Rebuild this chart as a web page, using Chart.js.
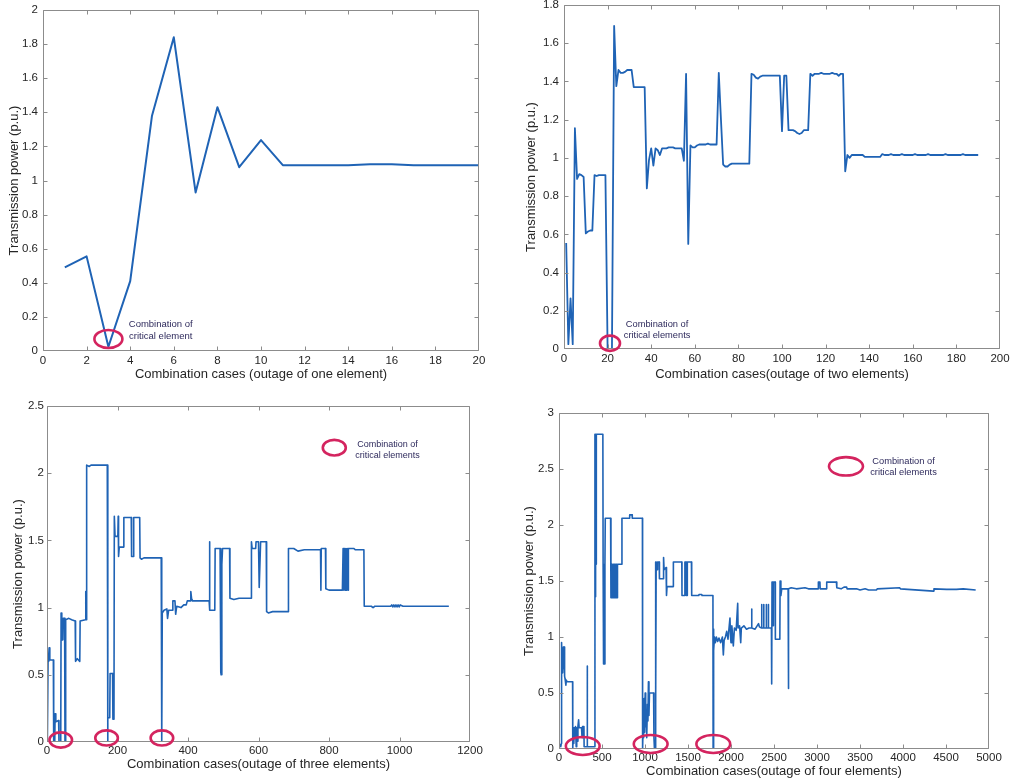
<!DOCTYPE html>
<html><head><meta charset="utf-8">
<script src="https://cdn.jsdelivr.net/npm/chart.js@4.4.1/dist/chart.umd.min.js"></script>
<style>
html,body{margin:0;padding:0;background:#fff;width:1010px;height:782px;overflow:hidden;position:relative;}
canvas{position:absolute;display:block;}
</style></head><body>
<canvas id="c1" width="500" height="390" style="left:0px;top:0px"></canvas>
<canvas id="c2" width="510" height="392" style="left:500px;top:-2px"></canvas>
<canvas id="c3" width="500" height="392" style="left:0px;top:390px"></canvas>
<canvas id="c4" width="510" height="392" style="left:500px;top:390px"></canvas>
<script>
// ---------- DATA ----------
// Plot 1: outage of one element (cases 1..20)
const onePower = [0.49,0.555,0.025,0.41,1.38,1.84,0.93,1.43,1.078,1.237,1.09,1.09,1.09,1.09,1.095,1.095,1.09,1.09,1.09,1.09];

// Plot 2: outage of two elements (cases 1..190)
const twoPower = [
0.555,0.025,0.265,0.025,1.155,0.89,0.915,0.91,0.9,0.605,
0.615,0.62,0.62,0.91,0.905,0.91,0.91,0.91,0.91,0.0,
0.0,0.0,1.69,1.375,1.46,1.445,1.445,1.45,1.46,1.46,
1.46,1.37,1.37,1.37,1.37,1.37,1.37,0.84,0.99,1.05,
0.96,1.05,1.04,1.015,1.05,1.05,1.05,1.055,1.055,1.055,
1.05,1.05,1.05,1.05,0.985,1.44,0.55,1.065,1.055,1.055,
1.065,1.07,1.07,1.07,1.07,1.075,1.07,1.07,1.07,1.07,
1.445,1.2,0.965,0.955,0.955,0.965,0.97,0.97,0.97,0.97,
0.97,0.97,0.97,0.97,0.97,1.44,1.435,1.42,1.415,1.425,
1.43,1.43,1.43,1.43,1.43,1.43,1.43,1.43,1.43,1.14,
1.43,1.43,1.145,1.145,1.145,1.14,1.13,1.125,1.13,1.145,
1.145,1.145,1.44,1.43,1.44,1.44,1.44,1.445,1.44,1.44,
1.44,1.44,1.445,1.44,1.44,1.43,1.44,1.44,0.93,1.015,
1.0,1.015,1.015,1.015,1.015,1.015,1.015,1.005,1.005,1.005,
1.005,1.005,1.005,1.005,1.005,1.02,1.015,1.015,1.015,1.02,
1.015,1.015,1.015,1.015,1.02,1.015,1.015,1.015,1.015,1.015,
1.02,1.015,1.015,1.015,1.015,1.015,1.02,1.015,1.015,1.015,
1.015,1.015,1.015,1.015,1.02,1.015,1.015,1.015,1.015,1.015,
1.015,1.015,1.02,1.015,1.015,1.015,1.015,1.015,1.015,1.015];

// Plot 3: outage of three elements (case number, power) breakpoints
const threeCases = [1,3,5,6,8,18,19,22,23,25,33,34,39,40,42,45,46,50,51,52,53,62,70,80,81,86,93,94,109,110,111,112,113,120,125,171,172,173,178,179,186,187,190,191,193,201,202,203,205,217,218,239,240,245,246,263,264,268,275,324,325,326,327,332,340,342,345,356,357,363,365,368,380,388,395,398,406,408,410,413,460,461,462,476,477,491,493,494,496,498,518,519,530,545,579,580,582,592,593,600,602,604,606,622,623,628,640,684,685,700,712,730,776,777,778,790,791,800,838,840,842,844,846,848,850,852,854,855,870,875,899,900,920,925,930,975,978,981,984,987,990,993,996,999,1002,1010,1140];
const threePower = [0.0,0.6,0.65,0.7,0.61,0.61,0.0,0.0,0.21,0.15,0.16,0.0,0.0,0.96,0.76,0.76,0.92,0.92,0.0,0.0,0.91,0.92,0.91,0.9,0.6,0.62,0.6,0.9,0.91,1.12,0.91,0.91,2.06,2.05,2.06,2.06,0.0,0.18,0.18,0.51,0.51,0.17,0.17,1.68,1.53,1.53,1.68,1.38,1.45,1.45,1.67,1.67,1.38,1.38,1.67,1.67,1.37,1.36,1.37,1.37,0.0,0.0,0.96,0.98,0.99,0.92,0.98,0.98,1.05,1.05,0.95,1.01,1.0,1.02,1.02,1.05,1.05,1.12,1.07,1.05,1.05,1.49,0.98,0.98,1.44,1.44,0.52,0.5,1.32,1.44,1.44,1.07,1.06,1.07,1.07,1.49,1.44,1.44,1.49,1.49,1.15,1.15,1.49,1.49,0.97,0.96,0.97,0.97,1.44,1.44,1.42,1.43,1.43,1.13,1.44,1.44,1.14,1.13,1.13,1.44,1.13,1.44,1.13,1.44,1.13,1.44,1.13,1.44,1.44,1.43,1.43,1.01,1.01,1.0,1.01,1.01,1.02,1.005,1.02,1.005,1.02,1.005,1.02,1.005,1.02,1.01,1.01];

// Plot 4: outage of four elements (case number, power) breakpoints
const fourCases = [1,20,28,30,35,40,45,50,55,60,65,72,80,85,100,158,160,166,172,178,186,192,200,206,212,220,228,234,262,268,274,290,292,326,328,331,415,418,421,424,427,432,434,446,510,513,518,530,534,538,600,604,608,612,616,620,624,628,632,636,640,644,648,652,656,660,664,668,672,676,680,730,732,820,822,850,852,970,972,978,984,990,996,1002,1008,1014,1020,1028,1034,1040,1046,1052,1100,1104,1110,1118,1122,1126,1130,1140,1146,1165,1168,1212,1216,1222,1245,1250,1256,1328,1330,1428,1430,1462,1464,1478,1480,1490,1492,1540,1543,1625,1628,1660,1663,1790,1792,1796,1800,1808,1818,1830,1845,1860,1880,1900,1911,1920,1935,1950,1965,1988,1995,2000,2010,2020,2027,2040,2060,2078,2082,2100,2113,2120,2150,2180,2210,2238,2240,2243,2280,2320,2330,2354,2356,2359,2378,2380,2383,2408,2410,2413,2432,2434,2437,2470,2473,2477,2481,2485,2489,2493,2513,2516,2568,2571,2580,2590,2664,2667,2671,2700,2760,2860,2900,3013,3016,3034,3037,3110,3113,3226,3230,3280,3314,3345,3350,3460,3500,3560,3600,3693,3700,3960,3970,4353,4360,4508,4620,4700,4845];
const fourPower = [0.05,0.02,0.05,0.95,0.7,0.9,0.68,0.91,0.72,0.91,0.65,0.62,0.57,0.61,0.6,0.6,0.0,0.19,0.05,0.19,0.1,0.2,0.02,0.19,0.07,0.2,0.26,0.19,0.19,0.1,0.2,0.2,0.02,0.02,0.74,0.02,0.02,2.81,1.36,2.81,1.65,1.65,2.81,2.81,2.81,1.65,0.76,0.76,1.65,2.06,2.06,1.35,1.65,1.35,1.65,1.35,1.65,1.35,1.65,1.35,1.65,1.35,1.65,1.35,1.65,1.35,1.65,1.35,1.65,1.35,1.65,1.65,2.06,2.06,2.09,2.09,2.06,2.06,0.0,0.2,0.1,0.45,0.15,0.5,0.2,0.35,0.1,0.4,0.25,0.6,0.3,0.5,0.5,0.1,0.0,0.0,1.67,0.4,1.67,1.6,1.67,1.67,1.52,1.52,1.71,1.6,1.62,1.37,1.45,1.45,1.67,1.67,1.37,1.37,1.67,1.67,1.37,1.37,1.67,1.67,1.37,1.37,1.38,1.38,1.37,1.37,0.0,1.07,0.88,1.0,0.95,1.0,0.96,0.99,0.95,1.0,0.84,0.97,1.0,1.05,0.98,1.17,1.0,0.95,1.1,1.0,0.92,1.08,1.06,1.3,1.08,1.1,0.95,1.08,1.1,1.07,1.08,1.08,1.25,1.08,1.07,1.12,1.09,1.08,1.29,1.08,1.08,1.29,1.08,1.08,1.29,1.08,1.08,1.29,1.08,1.08,0.58,1.49,1.1,1.49,1.1,1.49,1.49,0.98,0.98,1.5,1.37,1.43,1.43,0.54,1.43,1.44,1.43,1.44,1.43,1.43,1.49,1.49,1.43,1.43,1.49,1.49,1.44,1.43,1.445,1.445,1.43,1.43,1.42,1.43,1.42,1.42,1.43,1.44,1.43,1.41,1.43,1.425,1.425,1.43,1.42];

// Critical-element markers (case, power) and legend anchors
const oneMarkCases = [3], oneMarkPower = [0.07];
const twoMarkCases = [21.1], twoMarkPower = [0.03];
const threeMarkCases = [39, 169, 326], threeMarkPower = [0.015, 0.03, 0.03];
const fourMarkCases = [276, 1066, 1794], fourMarkPower = [0.027, 0.045, 0.045];
const noteLines1 = ['Combination of', 'critical element'];
const noteLines = ['Combination of', 'critical elements'];

const yTitle = 'Transmission power (p.u.)';
const xTitles = ['Combination cases (outage of one element)','Combination cases(outage of two elements)','Combination cases(outage of three elements)','Combination cases(outage of four elements)'];

// ---------- RENDER ----------
const FONT = '"Liberation Sans", Arial, Helvetica, sans-serif';
const LINE = '#1f63b5';
const RING = '#d4245f';
const NOTE = '#2e2a5c';

const decor = {
  id: 'decor',
  afterDraw(chart) {
    const o = chart.options.plugins.decor;
    const {ctx, chartArea: a, scales: {x, y}} = chart;
    ctx.save();
    const L = Math.round(a.left) + 0.5, R = Math.round(a.right) - 0.5;
    const T = Math.round(a.top) + 0.5, B = Math.round(a.bottom) - 0.5;
    const cl = (p, lo, hi) => Math.min(Math.max(p, lo), hi);
    ctx.strokeStyle = '#8c8c8c'; ctx.lineWidth = 1;
    ctx.beginPath();
    ctx.rect(L, T, R - L, B - T);
    x.ticks.forEach(t => { const p = cl(Math.round(x.getPixelForValue(t.value)) + 0.5, L, R);
      ctx.moveTo(p, B); ctx.lineTo(p, B - 4); ctx.moveTo(p, T); ctx.lineTo(p, T + 4); });
    y.ticks.forEach(t => { const p = cl(Math.round(y.getPixelForValue(t.value)) + 0.5, T, B);
      ctx.moveTo(L, p); ctx.lineTo(L + 4, p); ctx.moveTo(R, p); ctx.lineTo(R - 4, p); });
    ctx.stroke();
    // rings
    ctx.strokeStyle = RING; ctx.lineWidth = 2.6;
    o.ringX.forEach((cx, i) => {
      ctx.beginPath();
      ctx.ellipse(x.getPixelForValue(cx), y.getPixelForValue(o.ringY[i]), o.rx, o.ry, 0, 0, Math.PI * 2);
      ctx.stroke();
    });
    if (o.legendRing) {
      ctx.beginPath();
      ctx.ellipse(x.getPixelForValue(o.legendRing[0]), y.getPixelForValue(o.legendRing[1]), o.lrx, o.lry, 0, 0, Math.PI * 2);
      ctx.stroke();
    }
    // note text
    ctx.fillStyle = NOTE; ctx.font = o.noteSize + 'px ' + FONT;
    ctx.textAlign = 'center'; ctx.textBaseline = 'middle';
    o.noteLines.forEach((s, i) => {
      ctx.fillText(s, x.getPixelForValue(o.noteX), y.getPixelForValue(o.noteY[i]));
    });
    ctx.restore();
  }
};

function zeroPad(s) { s.paddingTop = 0; s.paddingBottom = 0; s.paddingLeft = 0; s.paddingRight = 0; }

function build(id, xs, ys, c) {
  const pts = ys.map((v, i) => ({x: xs[i], y: v}));
  new Chart(document.getElementById(id), {
    type: 'line',
    data: {datasets: [{data: pts, borderColor: LINE, borderWidth: c.lw, pointRadius: 0, tension: 0, fill: false, borderJoinStyle: 'round'}]},
    plugins: [decor],
    options: {
      responsive: false, animation: false, events: [],
      layout: {padding: {left: 0, top: c.top, right: c.right, bottom: 0}},
      plugins: {legend: {display: false}, tooltip: {enabled: false}, decor: c.decor},
      scales: {
        x: {type: 'linear', min: c.xmin, max: c.xmax,
          ticks: {stepSize: c.xstep, autoSkip: false, maxRotation: 0, padding: c.xpad, color: '#262626', font: {family: FONT, size: 11.5}, callback: v => String(v)},
          grid: {display: false, drawTicks: false}, border: {display: false},
          title: {display: true, text: c.xtitle, color: '#262626', font: {family: FONT, size: 13}, padding: {top: 0, bottom: c.xtb}},
          afterFit: s => { s.height = c.xh; zeroPad(s); }},
        y: {type: 'linear', min: c.ymin, max: c.ymax,
          ticks: {stepSize: c.ystep, autoSkip: false, padding: c.ypad, color: '#262626', font: {family: FONT, size: 11.5}, callback: v => String(v)},
          grid: {display: false, drawTicks: false}, border: {display: false},
          title: {display: true, text: yTitle, color: '#262626', font: {family: FONT, size: 13}, padding: {top: c.ytt, bottom: 0}},
          afterFit: s => { s.width = c.yw; zeroPad(s); }}
      }
    }
  });
}

const oneCases = onePower.map((_, i) => i + 1);
const twoCases = twoPower.map((_, i) => i + 1);

build('c1', oneCases, onePower, {lw: 2, top: 10, right: 21, xh: 39, yw: 43, xpad: 3, ypad: 5, xtb: 8, ytt: 7,
  xmin: 0, xmax: 20, xstep: 2, ymin: 0, ymax: 2, ystep: 0.2, xtitle: xTitles[0],
  decor: {ringX: oneMarkCases, ringY: oneMarkPower, rx: 14, ry: 9, noteX: 5.4, noteY: [0.158, 0.088], noteLines: noteLines1, noteSize: 9.5}});

build('c2', twoCases, twoPower, {lw: 1.8, top: 7, right: 10, xh: 41, yw: 64, xpad: 3, ypad: 5, xtb: 8, ytt: 24,
  xmin: 0, xmax: 200, xstep: 20, ymin: 0, ymax: 1.8, ystep: 0.2, xtitle: xTitles[1],
  decor: {ringX: twoMarkCases, ringY: twoMarkPower, rx: 10, ry: 7.6, noteX: 42.7, noteY: [0.131, 0.07], noteLines: noteLines, noteSize: 9.3}});

build('c3', threeCases, threePower, {lw: 1.6, top: 16, right: 30, xh: 40, yw: 47, xpad: 2, ypad: 3, xtb: 10, ytt: 11,
  xmin: 0, xmax: 1200, xstep: 200, ymin: 0, ymax: 2.5, ystep: 0.5, xtitle: xTitles[2],
  decor: {ringX: threeMarkCases, ringY: threeMarkPower, rx: 11.3, ry: 7.6, legendRing: [815, 2.19], lrx: 11.5, lry: 7.8,
    noteX: 966, noteY: [2.217, 2.135], noteLines: noteLines, noteSize: 9}});

build('c4', fourCases, fourPower, {lw: 1.6, top: 23, right: 21, xh: 33, yw: 59, xpad: 2, ypad: 5, xtb: 3, ytt: 22,
  xmin: 0, xmax: 5000, xstep: 500, ymin: 0, ymax: 3, ystep: 0.5, xtitle: xTitles[3],
  decor: {ringX: fourMarkCases, ringY: fourMarkPower, rx: 16.9, ry: 9, legendRing: [3337, 2.524], lrx: 17, lry: 9.2,
    noteX: 4006, noteY: [2.565, 2.467], noteLines: noteLines, noteSize: 9.3}});
</script>
</body></html>
